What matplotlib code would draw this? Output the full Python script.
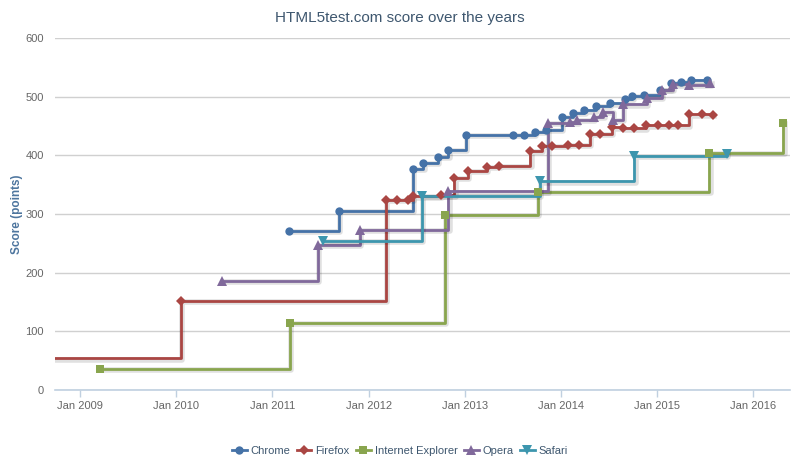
import matplotlib
matplotlib.use("Agg")
import matplotlib.pyplot as plt
import matplotlib.patheffects as pe
from matplotlib.lines import Line2D

plt.rcParams['font.family'] = ['Liberation Sans', 'DejaVu Sans']

# Dates as decimal years, scores in points
chrome_x = [2011.17, 2011.69, 2012.46, 2012.57, 2012.72, 2012.83, 2013.01, 2013.50, 2013.61,
            2013.73, 2013.84, 2014.01, 2014.12, 2014.24, 2014.36, 2014.51, 2014.66, 2014.74,
            2014.86, 2015.03, 2015.14, 2015.25, 2015.35, 2015.52]
chrome_y = [271, 305, 377, 387, 397, 409, 435, 435, 435, 440, 444, 466, 472, 477, 484, 489,
            496, 501, 503, 512, 524, 525, 528, 528]

firefox_x = [2008.40, 2010.05, 2012.18, 2012.30, 2012.41, 2012.46, 2012.75, 2012.89, 2013.03,
             2013.23, 2013.36, 2013.68, 2013.80, 2013.91, 2014.07, 2014.19, 2014.30, 2014.41,
             2014.53, 2014.64, 2014.76, 2014.88, 2015.01, 2015.12, 2015.22, 2015.33, 2015.47,
             2015.58]
firefox_y = [54, 152, 324, 324, 324, 330, 332, 362, 374, 380, 382, 408, 416, 416, 418, 418,
             437, 437, 448, 446, 446, 451, 451, 451, 451, 470, 470, 469]

ie_x = [2009.21, 2011.18, 2012.79, 2013.76, 2015.54, 2016.31]
ie_y = [36, 115, 299, 338, 404, 455]

opera_x = [2010.48, 2011.47, 2011.91, 2012.83, 2013.86, 2014.09, 2014.17, 2014.34, 2014.44,
           2014.54, 2014.64, 2014.89, 2015.05, 2015.16, 2015.33, 2015.55]
opera_y = [186, 248, 273, 339, 455, 456, 461, 466, 474, 461, 487, 498, 512, 521, 520, 524]

safari_x = [2011.53, 2012.55, 2013.78, 2014.76, 2015.72]
safari_y = [254, 331, 356, 399, 403]

series = [
    ("Chrome", chrome_x, chrome_y, "#4572A7", "o", 6),
    ("Firefox", firefox_x, firefox_y, "#AA4643", "D", 4.8),
    ("Internet Explorer", ie_x, ie_y, "#89A54E", "s", 6),
    ("Opera", opera_x, opera_y, "#80699B", "^", 6.5),
    ("Safari", safari_x, safari_y, "#3D96AE", "v", 6.5),
]

year_ticks = [2009, 2010, 2011, 2012, 2013, 2014, 2015, 2016]
year_labels = ["Jan 2009", "Jan 2010", "Jan 2011", "Jan 2012", "Jan 2013", "Jan 2014",
               "Jan 2015", "Jan 2016"]
y_ticks = [0, 100, 200, 300, 400, 500, 600]

fig = plt.figure(figsize=(8, 4.65), dpi=100)
ax = fig.add_axes([55/800, 1-390/465, 735/800, 352/465])

shadow = [pe.SimpleLineShadow(offset=(1, -1), alpha=0.12, linewidth=4), pe.Normal()]
handles = []
for name, xs, ys, color, marker, ms in series:
    ax.plot(xs, ys, drawstyle='steps-post', color=color, lw=2, zorder=3,
            path_effects=shadow)
    ax.plot(xs, ys, linestyle='none', marker=marker, color=color, ms=ms, zorder=4,
            markeredgewidth=0)
    handles.append(Line2D([0], [0], color=color, lw=2, marker=marker, ms=ms,
                          markeredgewidth=0, label=name))

ax.set_xlim(2008.74, 2016.38)
ax.set_ylim(0, 600)
ax.set_yticks(y_ticks)
ax.set_xticks(year_ticks)
ax.set_xticklabels(year_labels)
ax.grid(axis='y', color='#D0D0D0', lw=1, zorder=0)
ax.set_axisbelow(True)
for s in ['top', 'right', 'left']:
    ax.spines[s].set_visible(False)
ax.spines['bottom'].set_color('#C0D0E0')
ax.spines['bottom'].set_linewidth(1.2)
ax.tick_params(axis='x', colors='#C0D0E0', length=5, width=1, labelcolor='#666666',
               labelsize=8, pad=3)
ax.tick_params(axis='y', length=0, labelcolor='#666666', labelsize=8, pad=8)

ax.set_ylabel("Score (points)", color='#4D759E', fontsize=8.5, fontweight='semibold')
ax.yaxis.set_label_coords((23 - 55) / 735, 0.5)
fig.text(0.5, 1-18/465, "HTML5test.com score over the years", ha='center', va='center',
         fontsize=11, color='#3E576F')

fig.legend(handles=handles, loc='center', bbox_to_anchor=(0.5, 1-451/465), ncol=5,
           frameon=False, fontsize=8, labelcolor='#3E576F', handlelength=1.3,
           handletextpad=0.35, columnspacing=0.6)

fig.savefig("out.png", dpi=100)
